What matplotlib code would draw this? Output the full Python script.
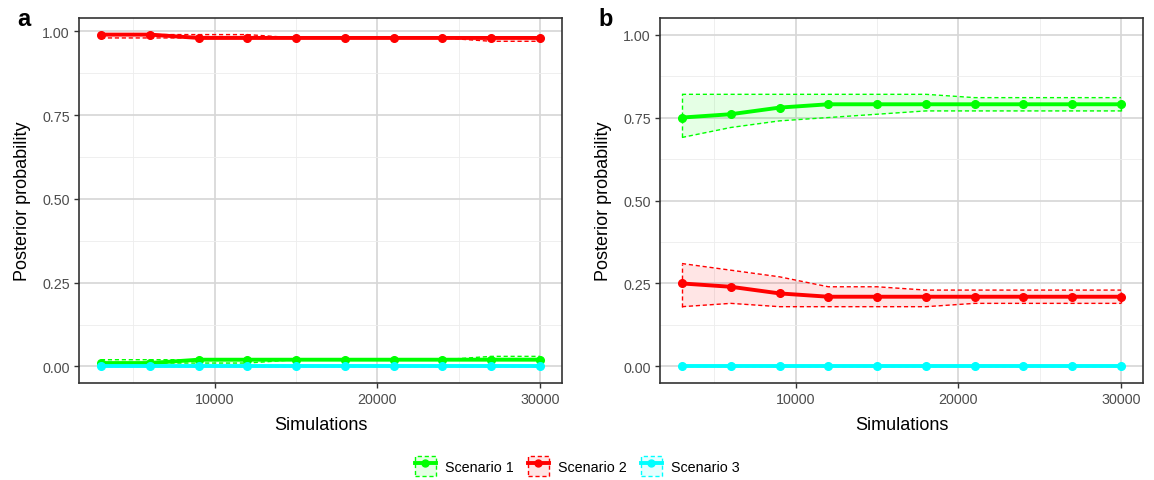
import matplotlib
matplotlib.use("Agg")
import matplotlib.pyplot as plt
from matplotlib.patches import Patch
from matplotlib.lines import Line2D
from matplotlib.ticker import MultipleLocator

plt.rcParams["font.family"] = ["Liberation Sans", "DejaVu Sans"]

simulations = [3000, 6000, 9000, 12000, 15000, 18000, 21000, 24000, 27000, 30000]
scenarios = ["Scenario 1", "Scenario 2", "Scenario 3"]
colors = ["#00FF00", "#FF0000", "#00FFFF"]

# panel a
a_s1_mean = [0.01, 0.01, 0.02, 0.02, 0.02, 0.02, 0.02, 0.02, 0.02, 0.02]
a_s1_low = [0.01, 0.01, 0.01, 0.01, 0.02, 0.02, 0.02, 0.02, 0.02, 0.02]
a_s1_high = [0.02, 0.02, 0.02, 0.02, 0.02, 0.02, 0.02, 0.02, 0.03, 0.03]
a_s2_mean = [0.99, 0.99, 0.98, 0.98, 0.98, 0.98, 0.98, 0.98, 0.98, 0.98]
a_s2_low = [0.98, 0.98, 0.98, 0.98, 0.98, 0.98, 0.98, 0.98, 0.97, 0.97]
a_s2_high = [0.99, 0.99, 0.99, 0.99, 0.98, 0.98, 0.98, 0.98, 0.98, 0.98]
a_s3_mean = [0.0] * 10
a_s3_low = [0.0] * 10
a_s3_high = [0.0] * 10

# panel b
b_s1_mean = [0.75, 0.76, 0.78, 0.79, 0.79, 0.79, 0.79, 0.79, 0.79, 0.79]
b_s1_low = [0.69, 0.72, 0.74, 0.75, 0.76, 0.77, 0.77, 0.77, 0.77, 0.77]
b_s1_high = [0.82, 0.82, 0.82, 0.82, 0.82, 0.82, 0.81, 0.81, 0.81, 0.81]
b_s2_mean = [0.25, 0.24, 0.22, 0.21, 0.21, 0.21, 0.21, 0.21, 0.21, 0.21]
b_s2_low = [0.18, 0.19, 0.18, 0.18, 0.18, 0.18, 0.19, 0.19, 0.19, 0.19]
b_s2_high = [0.31, 0.29, 0.27, 0.24, 0.24, 0.23, 0.23, 0.23, 0.23, 0.23]
b_s3_mean = [0.0] * 10
b_s3_low = [0.0] * 10
b_s3_high = [0.0] * 10

panel_a = [(a_s1_mean, a_s1_low, a_s1_high),
           (a_s2_mean, a_s2_low, a_s2_high),
           (a_s3_mean, a_s3_low, a_s3_high)]
panel_b = [(b_s1_mean, b_s1_low, b_s1_high),
           (b_s2_mean, b_s2_low, b_s2_high),
           (b_s3_mean, b_s3_low, b_s3_high)]

W, H = 1154, 481
fig = plt.figure(figsize=(W / 100, H / 100), dpi=100)
dash = (0, (3, 2))


def draw_panel(ax, series, ylim, tag):
    for (mean, low, high), c in zip(series, colors):
        ax.fill_between(simulations, low, high, color=c, alpha=0.1, lw=0, zorder=2)
        ax.plot(simulations, low, color=c, lw=1.0, ls=dash, zorder=3)
        ax.plot(simulations, high, color=c, lw=1.0, ls=dash, zorder=3)
        ax.plot([simulations[0]] * 2, [low[0], high[0]], color=c, lw=1.0, ls=dash, zorder=3)
        ax.plot([simulations[-1]] * 2, [low[-1], high[-1]], color=c, lw=1.0, ls=dash, zorder=3)
        ax.plot(simulations, mean, color=c, lw=2.8, marker="o", ms=5.5, zorder=4)
    ax.set_xlim(1650, 31350)
    ax.set_ylim(*ylim)
    ax.xaxis.set_major_locator(MultipleLocator(10000))
    ax.xaxis.set_minor_locator(MultipleLocator(5000))
    ax.yaxis.set_minor_locator(MultipleLocator(0.125))
    ax.set_yticks([0, 0.25, 0.5, 0.75, 1.0])
    ax.set_yticklabels(["0.00", "0.25", "0.50", "0.75", "1.00"])
    ax.grid(which="major", color="#D6D6D6", lw=1.2, zorder=0)
    ax.grid(which="minor", color="#EDEDED", lw=0.6, zorder=0)
    ax.set_axisbelow(True)
    ax.tick_params(which="major", length=3.5, width=1.0, color="#333333",
                   labelsize=10.3, labelcolor="#4D4D4D", pad=3)
    ax.tick_params(which="minor", length=0)
    for s in ax.spines.values():
        s.set_color("#333333")
        s.set_linewidth(1.2)
    ax.set_xlabel("Simulations", fontsize=13, labelpad=7)
    ax.set_ylabel("Posterior probability", fontsize=13, labelpad=8)
    ax.text(-62 / 483, 1.0, tag, transform=ax.transAxes, fontsize=17,
            fontweight="bold", va="center", ha="left")


ax_a = fig.add_axes([79 / W, 97 / H, 483 / W, 365 / H])
draw_panel(ax_a, panel_a, (-0.0495, 1.0395), "a")

ax_b = fig.add_axes([660 / W, 97 / H, 483 / W, 365 / H])
draw_panel(ax_b, panel_b, (-0.05, 1.05), "b")

handles = []
for c in colors:
    box = Patch(facecolor=matplotlib.colors.to_rgba(c, 0.1), edgecolor=c,
                linestyle=dash, lw=1.0)
    ln = Line2D([], [], color=c, lw=2.8, marker="o", ms=5)
    handles.append((box, ln))

fig.legend(handles, scenarios, loc="center", bbox_to_anchor=(0.5, 1 - 467 / H),
           ncol=3, frameon=False, fontsize=10.3, handlelength=1.5,
           handleheight=1.7, handletextpad=0.6, columnspacing=1.0)

fig.savefig("out.png", dpi=100)
